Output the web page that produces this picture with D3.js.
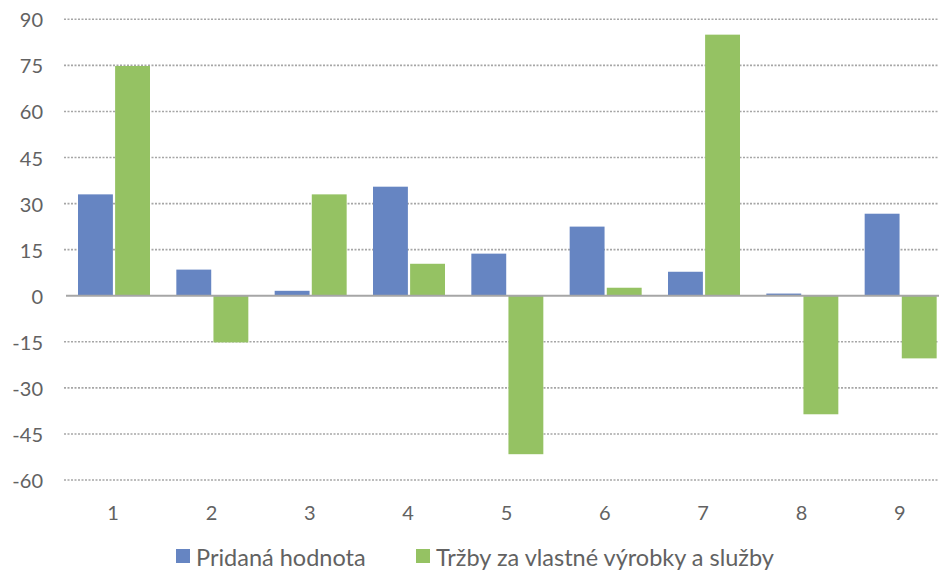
<!DOCTYPE html>
<html>
<head>
<meta charset="utf-8">
<script src="https://cdn.jsdelivr.net/npm/d3@7"></script>
<style>
  body { margin: 0; background: #fff; }
  text { font-family: Lato, "Open Sans", sans-serif; fill: #626262; }
</style>
</head>
<body>
<svg id="chart" width="939" height="572"></svg>
<script>
// data
const categories = ["1", "2", "3", "4", "5", "6", "7", "8", "9"];
const seriesNames = ["Pridaná hodnota", "Tržby za vlastné výrobky a služby"];
const pridanaHodnota = [33, 8.5, 1.6, 35.5, 13.7, 22.5, 7.8, 0.7, 26.7];
const trzby = [74.8, -15.2, 33, 10.4, -51.6, 2.6, 85, -38.6, -20.4];
const yTicks = [-60, -45, -30, -15, 0, 15, 30, 45, 60, 75, 90];
const colors = ["#6685c2", "#95c263"];

const svg = d3.select("svg#chart");
const plotLeft = 64, plotRight = 949;

const x = d3.scaleBand().domain(categories).range([plotLeft, plotRight]);
const xInner = d3.scaleBand().domain([0, 1]).range([14, 86]).paddingInner(0.06);
const y = d3.scaleLinear().domain([-60, 90]).range([480, 19.3]);

// gridlines
svg.append("g")
    .selectAll("line")
    .data(yTicks.filter(d => d !== 0))
    .join("line")
    .attr("x1", plotLeft)
    .attr("x2", plotRight)
    .attr("y1", d => y(d))
    .attr("y2", d => y(d))
    .attr("stroke", "#a6a6a6")
    .attr("stroke-width", 1.6)
    .attr("stroke-dasharray", "2,1.5");

// y labels
svg.append("g")
    .selectAll("text")
    .data(yTicks)
    .join("text")
    .attr("x", 43)
    .attr("y", d => y(d))
    .attr("text-anchor", "end")
    .attr("dominant-baseline", "central")
    .style("font-size", "20px")
    .text(d => d);

// bars
const series = [pridanaHodnota, trzby];
series.forEach((values, s) => {
    svg.append("g")
        .selectAll("rect")
        .data(values)
        .join("rect")
        .attr("x", (d, i) => x(categories[i]) + xInner(s))
        .attr("width", xInner.bandwidth())
        .attr("y", d => y(Math.max(0, d)))
        .attr("height", d => Math.abs(y(d) - y(0)))
        .attr("fill", colors[s]);
});

// zero line
svg.append("line")
    .attr("x1", plotLeft + 2)
    .attr("x2", plotRight)
    .attr("y1", y(0))
    .attr("y2", y(0))
    .attr("stroke", "#a6a6a6")
    .attr("stroke-width", 2);

// x labels
svg.append("g")
    .selectAll("text")
    .data(categories)
    .join("text")
    .attr("x", d => x(d) + x.bandwidth() / 2)
    .attr("y", 512)
    .attr("text-anchor", "middle")
    .attr("dominant-baseline", "central")
    .style("font-size", "20px")
    .text(d => d);

// legend
const legendX = [176, 416];
const legend = svg.append("g");
seriesNames.forEach((name, i) => {
    legend.append("rect")
        .attr("x", legendX[i])
        .attr("y", 549)
        .attr("width", 14)
        .attr("height", 14)
        .attr("fill", colors[i]);
    legend.append("text")
        .attr("x", legendX[i] + 20)
        .attr("y", 566)
        .style("font-size", "23.5px")
        .text(name);
});
</script>
</body>
</html>
